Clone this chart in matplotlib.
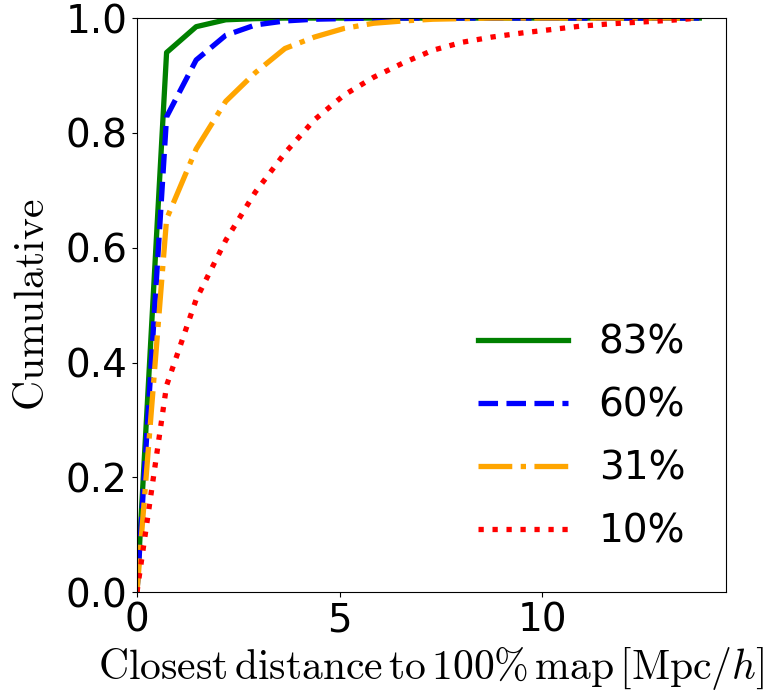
import numpy as np
import matplotlib
matplotlib.use('Agg')
import matplotlib.pyplot as plt

plt.rcParams['mathtext.fontset'] = 'cm'

# distance grid [Mpc/h]
dist = [0.0, 0.73, 1.46, 2.19, 2.92, 3.65, 4.38, 5.11, 5.84, 6.57,
        7.30, 8.03, 8.76, 9.49, 10.22, 10.95, 11.68, 12.41, 13.14, 13.87]

cum_83 = [0.0, 0.94, 0.985, 0.997, 0.999, 1.0, 1.0, 1.0, 1.0, 1.0,
          1.0, 1.0, 1.0, 1.0, 1.0, 1.0, 1.0, 1.0, 1.0, 1.0]
cum_60 = [0.0, 0.828, 0.927, 0.970, 0.988, 0.995, 0.998, 0.999, 1.0, 1.0,
          1.0, 1.0, 1.0, 1.0, 1.0, 1.0, 1.0, 1.0, 1.0, 1.0]
cum_31 = [0.0, 0.65, 0.772, 0.855, 0.905, 0.947, 0.967, 0.982, 0.991, 0.995,
          0.998, 0.999, 1.0, 1.0, 1.0, 1.0, 1.0, 1.0, 1.0, 1.0]
cum_10 = [0.0, 0.36, 0.51, 0.613, 0.697, 0.765, 0.823, 0.866, 0.897, 0.922,
          0.944, 0.958, 0.967, 0.974, 0.980, 0.986, 0.990, 0.993, 0.996, 1.0]

labels = ['83%', '60%', '31%', '10%']

fig = plt.figure(figsize=(7.67, 6.95), dpi=100)
ax = fig.add_axes([0.1786, 0.148, 0.768, 0.826])

lw = 3.8
ax.plot(dist, cum_83, color='green', ls='-', lw=lw, label=labels[0])
ax.plot(dist, cum_60, color='blue', ls='--', lw=lw, label=labels[1])
ax.plot(dist, cum_31, color='orange', ls='-.', lw=lw, label=labels[2])
ax.plot(dist, cum_10, color='red', ls=':', lw=lw, label=labels[3])

ax.set_xlim(0, 14.53)
ax.set_ylim(0, 1.0)
ax.set_xticks([0, 5, 10])
ax.set_yticks([0.0, 0.2, 0.4, 0.6, 0.8, 1.0])
ax.tick_params(labelsize=28)

ax.set_xlabel(r'$\mathrm{Closest\,distance\,to\,100\%\,map\,[Mpc}/h]$', fontsize=30)
ax.set_ylabel(r'$\mathrm{Cumulative}$', fontsize=30, labelpad=9)

ax.legend(loc='lower right', frameon=False, fontsize=28, handlelength=2.3,
          handletextpad=0.8, labelspacing=0.64, bbox_to_anchor=(0.99, 0.012))

fig.savefig('out.png', dpi=100)
